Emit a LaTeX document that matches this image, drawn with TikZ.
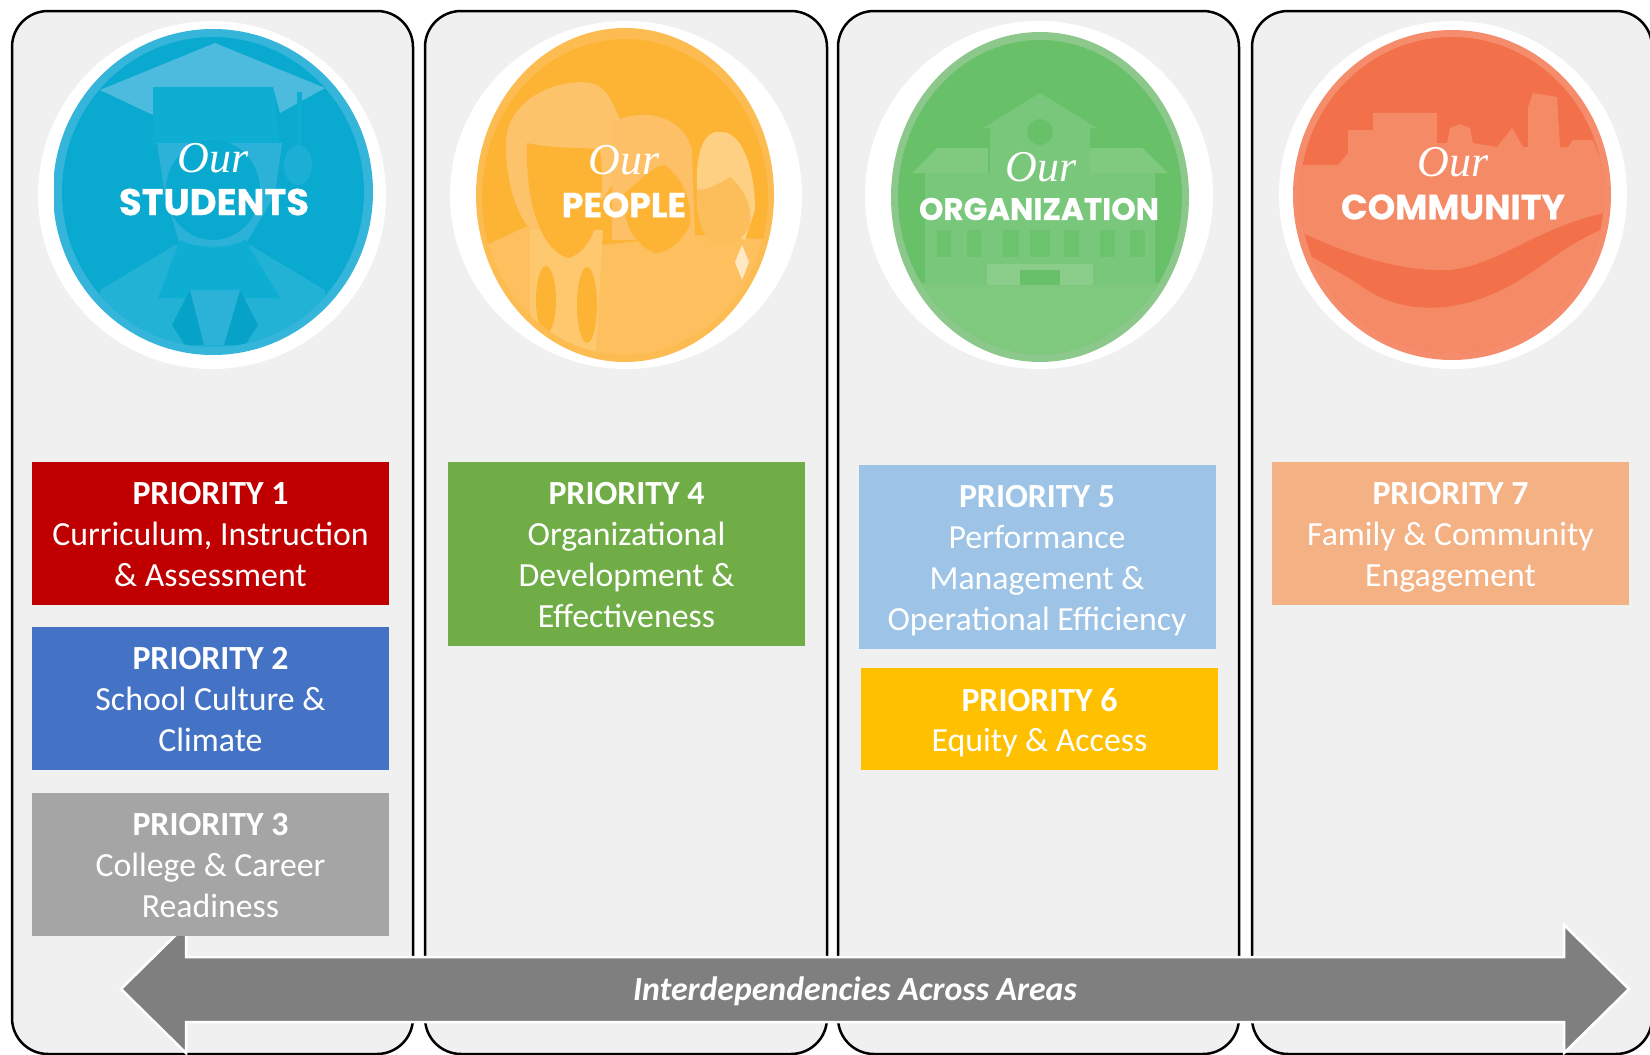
\documentclass[tikz,border=0pt]{standalone}
\usepackage{fontspec}
\setmainfont{Carlito}
\newfontfamily\ourfont{Liberation Serif}
\newfontfamily\headfont{Poppins}[BoldFeatures={FakeBold=0.6}]
\definecolor{panelbg}{HTML}{F0F0F0}
\definecolor{pone}{HTML}{C00000}
\definecolor{ptwo}{HTML}{4472C4}
\definecolor{pthree}{HTML}{A5A5A5}
\definecolor{pfour}{HTML}{70AD47}
\definecolor{pfive}{HTML}{9DC3E6}
\definecolor{psix}{HTML}{FFC000}
\definecolor{pseven}{HTML}{F4B183}
\definecolor{arrowgray}{HTML}{7F7F7F}
\tikzset{
  x=1pt,y=-1pt,
  hexfill/.code={\definecolor{tmpfillc}{HTML}{#1}\pgfkeysalso{fill=tmpfillc}},
  panel/.style={draw=black,line width=2.5pt,fill=panelbg,rounded corners=36pt,minimum width=#1,minimum height=1043pt,inner sep=0pt,outer sep=0pt},
  prio/.style={fill=#1,inner sep=0pt,outer sep=0pt,minimum width=357pt},
  priotext/.style={text=white,inner sep=0pt,outer sep=0pt,align=center,yshift=-7pt,font=\fontsize{33.8}{40.8}\selectfont,execute at begin node=\strut,execute at end node=\strut},
  ourtext/.style={text=white,inner sep=0pt,font=\ourfont\itshape\fontsize{44}{44}\selectfont},
  headtext/.style={text=white,inner sep=0pt,font=\headfont\bfseries\fontsize{#1}{#1}\selectfont},
}
\begin{document}
\begin{tikzpicture}
\useasboundingbox (0,0) rectangle (1650,1055);
\fill[white] (0,0) rectangle (1650,1055);
% panels
\node[panel=401pt] (col1) at (212.5,532.5) {};
\node[panel=402pt] (col2) at (626,532.5) {};
\node[panel=401pt] (col3) at (1038.5,532.5) {};
\node[panel=400pt] (col4) at (1452,532.5) {};

% ---- Students badge
\fill[white] (212,195) ellipse [x radius=174,y radius=174];
\begin{scope}
\clip (213,192) ellipse [x radius=160,y radius=163];
\fill[hexfill=35B5DA] (54,20) rectangle (374,360);
\end{scope}
\begin{scope}
\clip (213,192) ellipse [x radius=151,y radius=155];
\fill[hexfill=0AA9CF] (54,20) rectangle (374,360);
\fill[hexfill=4DBBDE] (215,43) -- (325,88) -- (280,113) -- (273,87) -- (153,87) -- (153,115) -- (100,90) -- cycle;
\fill[hexfill=22B2D6] (100,290) -- (175,245) -- (250,245) -- (325,290) -- (330,355) -- (95,355) -- cycle;
\fill[hexfill=0EADD2] (153,87) -- (273,87) -- (280,145) -- (153,145) -- cycle;
\fill[hexfill=2CB2D8] (157,143) -- (282,143) -- (275,195) -- (245,245) -- (180,245) -- (165,195) -- cycle;
\fill[hexfill=0AA9CF] (213,190) ellipse [x radius=47,y radius=50];
\fill[hexfill=0EADD2] (180,240) .. controls (200,250) and (225,250) .. (245,240) -- (280,298) -- (158,298) -- cycle;
\fill[hexfill=07A2C8] (190,290) -- (172,325) -- (185,345) -- (245,345) -- (258,325) -- (240,290) -- cycle;
\fill[hexfill=2CB2D8] (190,290) -- (240,290) -- (224,345) -- (204,345) -- cycle;
\fill[hexfill=0EADD2] (297,92) rectangle (302,150);
\fill[hexfill=1CAFD5] (298,165) ellipse [x radius=14,y radius=20];
\end{scope}
\node[ourtext] (our1) at (213,158) {Our};
\node[headtext=37] (head1) at (214,202) {STUDENTS};

% ---- People badge
\fill[white] (626,195) ellipse [x radius=176,y radius=174];
\begin{scope}
\clip (625,195) ellipse [x radius=149,y radius=167];
\fill[hexfill=FDBC52] (470,20) rectangle (780,370);
\end{scope}
\begin{scope}
\clip (625,197) ellipse [x radius=143,y radius=158];
\fill[hexfill=FDB334] (470,20) rectangle (780,370);
\fill[hexfill=FEC05E] (475,250) -- (530,225) -- (600,245) -- (700,235) -- (775,240) -- (775,370) -- (475,370) -- cycle;
\fill[hexfill=FDC36B] (506,145) .. controls (505,95) and (565,78) .. (590,83) .. controls (605,85) and (612,100) .. (622,125) -- (622,170) -- (575,240) -- (535,235) .. controls (515,215) and (506,180) .. (506,145) -- cycle;
\fill[hexfill=FDC066] (612,122) .. controls (650,105) and (685,120) .. (692,150) -- (695,240) -- (612,240) -- cycle;
\fill[hexfill=FEC86F] (530,230) -- (603,230) -- (595,370) -- (530,370) -- cycle;
\fill[hexfill=FDB334] (527,143) .. controls (560,150) and (580,146) .. (600,150) .. controls (606,190) and (600,250) .. (568,258) .. controls (540,250) and (525,200) .. (527,143) -- cycle;
\fill[hexfill=FDB334] (623,195) .. controls (640,180) and (655,165) .. (665,165) .. controls (685,180) and (692,205) .. (690,225) .. controls (680,245) and (665,253) .. (655,253) .. controls (635,245) and (623,225) .. (623,195) -- cycle;
\fill[hexfill=FDB334] (546,300) ellipse [x radius=10,y radius=34];
\fill[hexfill=FDB334] (587,305) ellipse [x radius=10,y radius=38];
\fill[hexfill=FED083] (697,190) .. controls (695,150) and (705,130) .. (720,132) .. controls (740,130) and (755,165) .. (755,210) -- (745,240) -- (700,220) -- cycle;
\fill[hexfill=FBBE5A] (697,190) .. controls (710,190) and (725,180) .. (730,177) .. controls (745,190) and (752,205) .. (750,225) .. controls (740,245) and (725,248) .. (715,245) .. controls (700,235) and (695,210) .. (697,190) -- cycle;
\fill[hexfill=FFE9C4] (742,245) -- (749,262) -- (742,280) -- (735,262) -- cycle;
\end{scope}
\node[ourtext] (our2) at (624,160) {Our};
\node[headtext=34.6] (head2) at (624,205) {PEOPLE};

% ---- Organization badge
\fill[white] (1039,195) ellipse [x radius=174,y radius=174];
\begin{scope}
\clip (1040,197) ellipse [x radius=149,y radius=165];
\fill[hexfill=8CC88C] (880,20) rectangle (1200,370);
\end{scope}
\begin{scope}
\clip (1040,197) ellipse [x radius=142,y radius=157];
\fill[hexfill=68C169] (880,20) rectangle (1200,370);
\fill[hexfill=7FC97F] (880,283) rectangle (1200,370);
\fill[hexfill=79C77A] (1040,93) -- (1097,128) -- (1090,128) -- (1090,173) -- (1155,173) -- (1155,285) -- (925,285) -- (925,173) -- (990,173) -- (990,128) -- (983,128) -- cycle;
\fill[hexfill=80CA80] (937,148) -- (988,148) -- (988,173) -- (913,173) -- cycle;
\fill[hexfill=80CA80] (1090,148) -- (1142,148) -- (1168,173) -- (1090,173) -- cycle;
\fill[hexfill=68C169] (1040,132) circle [radius=13];
\foreach \wx/\ww in {937/14,967/14,1003/16,1030/20,1064/15,1100/15,1130/15}
  \fill[hexfill=6CC36D] (\wx,230) rectangle ++(\ww,27);
\fill[hexfill=8BCE8B] (987,264) rectangle (1093,285);
\fill[hexfill=68C169] (1020,270) rectangle (1060,285);
\end{scope}
\node[ourtext] (our3) at (1041,167) {Our};
\node[headtext=31] (head3) at (1039,209) {ORGANIZATION};

% ---- Community badge
\fill[white] (1453,195) ellipse [x radius=174,y radius=174];
\begin{scope}
\clip (1452,195) ellipse [x radius=159,y radius=165];
\fill[hexfill=F58D6C] (1285,20) rectangle (1620,370);
\end{scope}
\begin{scope}
\clip (1452,195) ellipse [x radius=152,y radius=158];
\fill[hexfill=F2704A] (1285,20) rectangle (1620,370);
\fill[hexfill=F58A66] (1285,165) -- (1338,165) -- (1348,153) -- (1348,130) -- (1373,130) -- (1373,113) -- (1437,113) -- (1437,143) -- (1447,143) -- (1450,128) -- (1460,124) -- (1470,128) -- (1473,143) -- (1497,147) -- (1512,128) -- (1523,147) -- (1528,147) -- (1528,107) -- (1533,93) -- (1557,97) -- (1560,147) -- (1568,147) -- (1573,140) -- (1593,140) -- (1620,213) -- (1620,370) -- (1285,370) -- cycle;
\fill[hexfill=F2704A] (1300,232) .. controls (1350,255) and (1400,272) .. (1450,270) .. controls (1500,265) and (1540,225) .. (1610,212) -- (1610,226) .. controls (1560,245) and (1530,280) .. (1490,295) .. controls (1450,312) and (1400,315) .. (1360,285) .. controls (1340,272) and (1320,262) .. (1300,250) -- cycle;
\end{scope}
\node[ourtext] (our4) at (1453,162) {Our};
\node[headtext=35] (head4) at (1453,207) {COMMUNITY};

% ---- Arrow
\fill[arrowgray,draw=white,line width=2.5pt] (121,989) -- (186,925) -- (186,957) -- (1564,957) -- (1564,925) -- (1629,989) -- (1564,1053) -- (1564,1022) -- (186,1022) -- (186,1053) -- cycle;
\node[text=white,inner sep=0pt,font=\bfseries\itshape\fontsize{33.8}{40}\selectfont] (arrowlabel) at (855,991) {Interdependencies Across Areas};

% ---- Priorities
\node[prio=pone,minimum height=143pt] (p1) at (210.5,533.5) {};
\node[priotext] (t1) at (p1.center) {\textbf{PRIORITY 1}\\Curriculum, Instruction\\\& Assessment};
\node[prio=ptwo,minimum height=143pt] (p2) at (210.5,698.5) {};
\node[priotext] (t2) at (p2.center) {\textbf{PRIORITY 2}\\School Culture \&\\Climate};
\node[prio=pthree,minimum height=143pt] (p3) at (210.5,864.5) {};
\node[priotext] (t3) at (p3.center) {\textbf{PRIORITY 3}\\College \& Career\\Readiness};
\node[prio=pfour,minimum height=184pt] (p4) at (626.5,554) {};
\node[priotext] (t4) at (p4.center) {\textbf{PRIORITY 4}\\Organizational\\Development \&\\Effectiveness};
\node[prio=pfive,minimum height=184pt] (p5) at (1037,557) {};
\node[priotext] (t5) at (p5.center) {\textbf{PRIORITY 5}\\Performance\\Management \&\\Operational Efficiency};
\node[prio=psix,minimum height=102pt] (p6) at (1039.5,719) {};
\node[priotext] (t6) at (p6.center) {\textbf{PRIORITY 6}\\Equity \& Access};
\node[prio=pseven,minimum height=143pt] (p7) at (1450.5,533.5) {};
\node[priotext] (t7) at (p7.center) {\textbf{PRIORITY 7}\\Family \& Community\\Engagement};
\end{tikzpicture}
\end{document}
